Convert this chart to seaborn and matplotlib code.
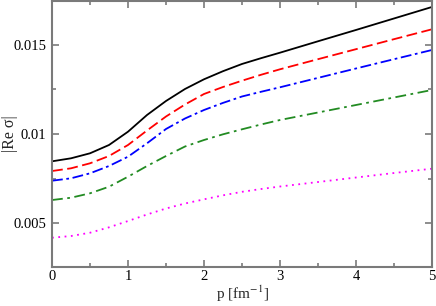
import numpy as np
import pandas as pd
import matplotlib
matplotlib.use("Agg")
import matplotlib.pyplot as plt
import seaborn as sns
from matplotlib.ticker import MultipleLocator

p = [0, 0.25, 0.5, 0.75, 1, 1.25, 1.5, 1.75, 2, 2.25, 2.5, 2.75, 3, 3.5, 4, 4.5, 5]
black = [0.008466, 0.008635, 0.008916, 0.009382, 0.010129, 0.011067, 0.011854, 0.012528,
         0.013073, 0.013528, 0.013933, 0.014258, 0.014567, 0.015208, 0.015843, 0.016489, 0.017135]
red = [0.007921, 0.008073, 0.008354, 0.008764, 0.009382, 0.010197, 0.010983, 0.011657,
       0.012247, 0.012640, 0.012994, 0.013326, 0.013635, 0.014202, 0.014764, 0.015326, 0.015882]
blue = [0.007376, 0.007511, 0.007792, 0.008202, 0.008725, 0.009478, 0.010281, 0.010871,
        0.011348, 0.011747, 0.012107, 0.012371, 0.012624, 0.013152, 0.013680, 0.014202, 0.014719]
green = [0.006292, 0.006421, 0.006669, 0.007039, 0.007601, 0.008202, 0.008764, 0.009298,
         0.009663, 0.009983, 0.010264, 0.010534, 0.010787, 0.011208, 0.011629, 0.012051, 0.012472]
magenta = [0.004174, 0.004270, 0.004455, 0.004758, 0.005112, 0.005478, 0.005815, 0.006096,
           0.006331, 0.006556, 0.006753, 0.006910, 0.007051, 0.007303, 0.007556, 0.007809, 0.008051]

series = {"black": black, "red": red, "blue": blue, "green": green, "magenta": magenta}
colors = {"black": "#000000", "red": "#ff0000", "blue": "#0000ff", "green": "#228b22", "magenta": "#ff00ff"}
dashes = {"black": "", "red": (6, 2.5), "blue": (6, 2, 1.5, 2), "green": (6, 2.5, 1.5, 2.5), "magenta": (1, 2.5)}

df = pd.concat([pd.DataFrame({"p": p, "val": v, "curve": k}) for k, v in series.items()], ignore_index=True)

sns.set_style("ticks")
plt.rcParams["font.family"] = ["Liberation Serif", "DejaVu Serif"]
plt.rcParams["mathtext.fontset"] = "stix"

fig = plt.figure(figsize=(4.36, 3.06), dpi=100)
ax = fig.add_axes([52/436, 1 - 267/306, 380/436, 266/306])

sns.lineplot(data=df, x="p", y="val", hue="curve", style="curve",
             palette=colors, dashes=dashes, linewidth=1.3, legend=False, ax=ax)

ax.set_xlim(0, 5)
ax.set_ylim(0.00253, 0.01747)
ax.xaxis.set_minor_locator(MultipleLocator(0.5))
ax.yaxis.set_minor_locator(MultipleLocator(0.0025))
ax.set_yticks([0.005, 0.01, 0.015])
ax.set_yticklabels(["0.005", "0.01", "0.015"])
ax.set_xticks([0, 1, 2, 3, 4, 5])
ax.set_xticklabels(["0", "1", "2", "3", "4", "5"])

edge = "#7a7a7a"
for s in ax.spines.values():
    s.set_color(edge)
    s.set_linewidth(1.5)
ax.tick_params(which="both", direction="in", top=True, right=True, color=edge, width=1.2,
               labelsize=10.5, labelcolor="black")
ax.tick_params(axis="x", which="major", pad=2)
ax.tick_params(axis="y", which="major", pad=4)
ax.tick_params(which="major", length=5)
ax.tick_params(which="minor", length=3)

ax.set_xlabel("p [fm$^{-1}$]", fontsize=11, labelpad=1)
ax.set_ylabel("|Re σ|", fontsize=11.5)
ax.yaxis.set_label_coords(-0.09, 0.5)

fig.savefig("out.png", dpi=100)
